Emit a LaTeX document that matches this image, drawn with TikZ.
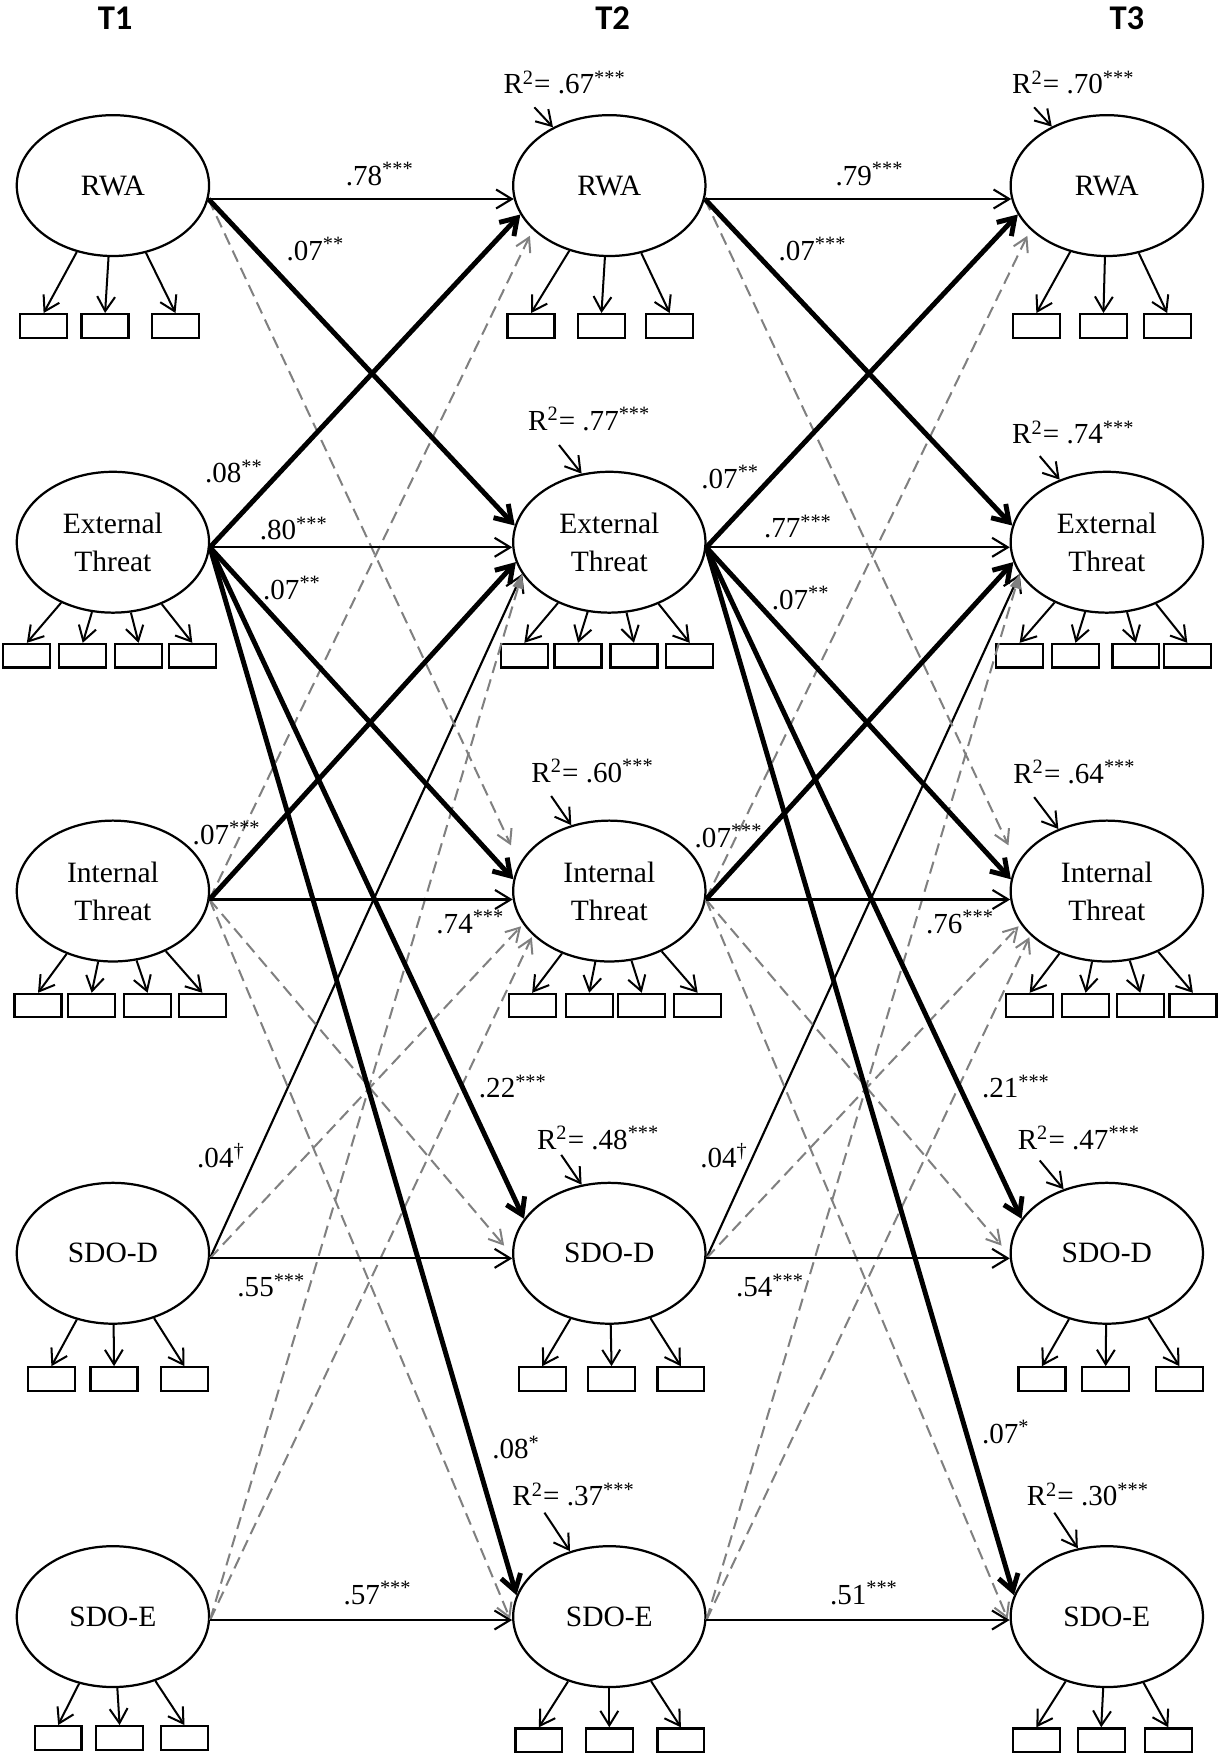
\documentclass[tikz,border=0pt]{standalone}
\usepackage{fontspec}
\setmainfont{Liberation Serif}
\newfontfamily\hdrfont{Carlito}
\usetikzlibrary{shapes.geometric,arrows.meta}
\definecolor{dgray}{RGB}{128,128,128}
\begin{document}
\begin{tikzpicture}[x=0.5pt,y=-0.5pt,
  lat/.style={ellipse,draw,line width=1pt,minimum width=86pt,minimum height=63pt,inner sep=0pt,align=center,font=\fontsize{13.2}{17}\selectfont},
  ind/.style={draw,line width=1pt,minimum width=21pt,minimum height=10.5pt,inner sep=0pt},
  indarr/.style={line width=0.9pt,-{Straight Barb[length=6.5pt,width=8pt]}},
  thinarr/.style={line width=0.95pt,-{Straight Barb[length=7pt,width=8.5pt]}},
  thickarr/.style={line width=2.2pt,-{Straight Barb[length=7pt,width=9pt]}},
  grayarr/.style={dgray,line width=0.9pt,dash pattern=on 5.5pt off 3pt,-{Straight Barb[length=6pt,width=7pt]},shorten >=2pt},
  graytri/.style={dgray,line width=0.9pt,dash pattern=on 5.5pt off 3pt,-{Triangle[length=6.5pt,width=5pt]}},
  lbl/.style={font=\fontsize{13}{15}\selectfont,inner sep=0pt},
  hdr/.style={font=\hdrfont\bfseries\fontsize{15.5}{18}\selectfont,inner sep=0pt}]
\fill[white] (0,0) rectangle (1091,1568);
\useasboundingbox (0,0) rectangle (1091,1568);

% headers
\node[hdr] (h1) at (103,16) {T1};
\node[hdr] (h2) at (548,16) {T2};
\node[hdr] (h3) at (1008,16) {T3};

% latent variables
\foreach \c/\x in {1/101,2/545,3/990} {
  \node[lat] (rwa\c)  at (\x,166)  {RWA};
  \node[lat] (ext\c)  at (\x,485)  {External\\Threat};
  \node[lat] (int\c)  at (\x,797)  {Internal\\Threat};
  \node[lat] (sdod\c) at (\x,1121) {SDO-D};
  \node[lat] (sdoe\c) at (\x,1446) {SDO-E};
}

% indicators
\foreach \n/\xs/\y in {
  rwa1/{39,94,157}/280, ext1/{24,74,124,172}/575, int1/{34,82,132,181}/888,
  sdod1/{46,102,165}/1222, sdoe1/{52,107,165}/1543,
  rwa2/{475,538,599}/280, ext2/{469,517,567,617}/575, int2/{476,527,574,624}/888,
  sdod2/{485,547,609}/1222, sdoe2/{482,545,609}/1545,
  rwa3/{927,987,1044}/280, ext3/{912,962,1016,1062}/575, int3/{921,971,1020,1067}/888,
  sdod3/{932,989,1055}/1222, sdoe3/{927,985,1045}/1545} {
  \foreach \xx [count=\i] in \xs {
    \node[ind,anchor=north] (\n-\i) at (\xx,\y) {};
    \draw[indarr] (\n) -- (\n-\i.north);
  }
}

% structural paths
\foreach \a/\b in {1/2,2/3} {
  \draw[thinarr] (sdod\a.-3) -- (ext\b.200);
  \draw[grayarr,shorten >=9pt] (rwa\a.-8) -- (int\b.163);
  \draw[grayarr,shorten >=3pt] (int\a.-5) -- (rwa\b.210);
  \draw[grayarr,shorten >=5.5pt] (int\a.-5) -- (sdod\b.181);
  \draw[grayarr,shorten >=3pt] (int\a.-5) -- (sdoe\b.185);
  \draw[grayarr,shorten >=1.3pt] (sdod\a.-3) -- (int\b.201);
  \draw[grayarr,shorten >=1pt] (sdoe\a.-2) -- (int\b.210);
  \draw[graytri] (sdoe\a.-2) -- (ext\b.200);
  \draw[thinarr] (rwa\a.-8) -- (rwa\b.188);
  \draw[thinarr] (ext\a.-3) -- (ext\b.183);
  \draw[thinarr] (int\a.-5) -- (int\b.185);
  \draw[thinarr] (sdod\a.-3) -- (sdod\b.183);
  \draw[thinarr] (sdoe\a.-2) -- (sdoe\b.182);
  \draw[thickarr] (rwa\a.-8) -- (ext\b.170);
  \draw[thickarr] (ext\a.-3) -- (rwa\b.198);
  \draw[thickarr] (ext\a.-3) -- (int\b.173);
  \draw[thickarr] (int\a.-5) -- (ext\b.192);
  \draw[thickarr] (ext\a.-3) -- (sdod\b.158);
  \draw[thickarr] (ext\a.-3) -- (sdoe\b.167);
}

% path labels T1 -> T2
\node[lbl,anchor=base west] (p1) at (309,166) {.78\textsuperscript{***}};
\node[lbl,anchor=base west] (p2) at (256,233) {.07\textsuperscript{**}};
\node[lbl,anchor=base west] (p3) at (183,432) {.08\textsuperscript{**}};
\node[lbl,anchor=base west] (p4) at (232,483) {.80\textsuperscript{***}};
\node[lbl,anchor=base west] (p5) at (235,536) {.07\textsuperscript{**}};
\node[lbl,anchor=base west] (p6) at (172,755) {.07\textsuperscript{***}};
\node[lbl,anchor=base west] (p7) at (390,835) {.74\textsuperscript{***}};
\node[lbl,anchor=base west] (p8) at (428,982) {.22\textsuperscript{***}};
\node[lbl,anchor=base west] (p9) at (176,1044) {.04\textsuperscript{\textdagger}};
\node[lbl,anchor=base west] (p10) at (212,1160) {.55\textsuperscript{***}};
\node[lbl,anchor=base west] (p11) at (440,1305) {.08\textsuperscript{*}};
\node[lbl,anchor=base west] (p12) at (307,1435) {.57\textsuperscript{***}};
% path labels T2 -> T3
\node[lbl,anchor=base west] (q1) at (747,166) {.79\textsuperscript{***}};
\node[lbl,anchor=base west] (q2) at (696,233) {.07\textsuperscript{***}};
\node[lbl,anchor=base west] (q3) at (627,437) {.07\textsuperscript{**}};
\node[lbl,anchor=base west] (q4) at (683,481) {.77\textsuperscript{***}};
\node[lbl,anchor=base west] (q5) at (690,545) {.07\textsuperscript{**}};
\node[lbl,anchor=base west] (q6) at (621,758) {.07\textsuperscript{***}};
\node[lbl,anchor=base west] (q7) at (828,835) {.76\textsuperscript{***}};
\node[lbl,anchor=base west] (q8) at (878,982) {.21\textsuperscript{***}};
\node[lbl,anchor=base west] (q9) at (626,1044) {.04\textsuperscript{\textdagger}};
\node[lbl,anchor=base west] (q10) at (658,1160) {.54\textsuperscript{***}};
\node[lbl,anchor=base west] (q11) at (878,1291) {.07\textsuperscript{*}};
\node[lbl,anchor=base west] (q12) at (742,1435) {.51\textsuperscript{***}};

% R squared
\foreach \n/\lx/\ly/\val/\sx/\sy/\ang in {
  rwa2/450/84/.67/478/96/134, rwa3/905/84/.70/925/96/133,
  ext2/472/385/.77/500/398/112, ext3/905/397/.74/930/408/127,
  int2/475/700/.60/493/712/120, int3/906/701/.64/925/713/128,
  sdod2/480/1028/.48/502/1033/112, sdod3/910/1028/.47/930/1038/124,
  sdoe2/458/1347/.37/487/1353/121, sdoe3/918/1347/.30/943/1353/113} {
  \node[lbl,anchor=base west] (r2\n) at (\lx,\ly) {R\textsuperscript{2}= \val\textsuperscript{***}};
  \coordinate (r2s\n) at (\sx,\sy);
  \draw[indarr] (r2s\n) -- (\n.\ang);
}
\end{tikzpicture}
\end{document}
